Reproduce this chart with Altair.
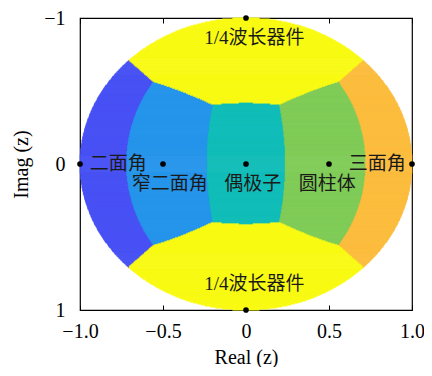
import numpy as np
import pandas as pd
import altair as alt

# reference scatterers (Cameron's classification, z-plane)
ref_class = ["三面角", "二面角", "偶极子", "圆柱体", "窄二面角", "1/4波长器件", "1/4波长器件"]
ref_real = [1.0, -1.0, 0.0, 0.5, -0.5, 0.0, 0.0]
ref_imag = [0.0, 0.0, 0.0, 0.0, 0.0, 1.0, -1.0]

class_names = ["二面角", "窄二面角", "偶极子", "圆柱体", "三面角", "1/4波长器件"]
class_colors = ["#4852F4", "#2796EB", "#12BEB9", "#80CC59", "#FCBD3E", "#F9FB14"]

label_text = ["1/4波长器件", "1/4波长器件", "二面角", "三面角", "窄二面角", "偶极子", "圆柱体"]
label_x = [0.05, 0.05, -0.77, 0.79, -0.46, 0.04, 0.49]
label_y = [-0.86, 0.82, 0.0, 0.0, 0.14, 0.14, 0.14]

x_ticks = [-1.0, -0.5, 0.0, 0.5, 1.0]
y_ticks = [-1, 0, 1]

# ---- classify the unit disk by nearest reference (Cameron distance) ----
NX, NY = 520, 295
xs = np.linspace(-1, 1, NX + 1)
ys = np.linspace(-1, 1, NY + 1)
xc = (xs[:-1] + xs[1:]) / 2
yc = (ys[:-1] + ys[1:]) / 2
zr = np.array(ref_real) + 1j * np.array(ref_imag)

rows = []
dy = ys[1] - ys[0]
for j, y in enumerate(yc):
    z = xc + 1j * y
    inside = np.abs(z) <= 1.0
    cosd = np.abs(1 + z[:, None] * np.conj(zr)[None, :]) / np.sqrt(
        (1 + np.abs(z[:, None]) ** 2) * (1 + np.abs(zr[None, :]) ** 2))
    idx = np.argmax(cosd, axis=1)
    i = 0
    while i < NX:
        if not inside[i]:
            i += 1
            continue
        k = i
        while k + 1 < NX and inside[k + 1] and idx[k + 1] == idx[i]:
            k += 1
        rows.append({"x": xs[i], "x2": xs[k + 1],
                     "y": ys[j] - 0.3 * dy, "y2": ys[j + 1] + 0.3 * dy,
                     "cls": ref_class[idx[i]]})
        i = k + 1
cells = pd.DataFrame(rows)

pts = pd.DataFrame({"re": ref_real, "im": ref_imag})
labels = pd.DataFrame({"t": label_text, "x": label_x, "y": label_y})

xscale = alt.Scale(domain=[-1, 1], nice=False, zero=False)
yscale = alt.Scale(domain=[-1, 1], nice=False, zero=False, reverse=True)
cscale = alt.Scale(domain=class_names, range=class_colors)

serif = "Liberation Serif"

x_axis = alt.Axis(values=x_ticks, title="Real (z)", grid=False, domain=False,
                  offset=-5, tickSize=5, tickColor="black", labelPadding=11,
                  labelFlush=False,
                  labelFont=serif, labelFontSize=20, labelColor="black",
                  labelExpr="datum.value == 0 ? '0' : replace(format(datum.value, '.1f'), '-', '−')",
                  titleFont=serif, titleFontSize=20, titleFontWeight="normal",
                  titleColor="black", titlePadding=6)
y_axis = alt.Axis(values=y_ticks, title="Imag (z)", grid=False, domain=False,
                  offset=-5, tickSize=5, tickColor="black", labelPadding=15,
                  labelFlush=False,
                  labelFont=serif, labelFontSize=20, labelColor="black",
                  labelExpr="replace(format(datum.value, 'd'), '-', '−')",
                  titleFont=serif, titleFontSize=20, titleFontWeight="normal",
                  titleColor="black", titlePadding=12)

regions = alt.Chart(cells).mark_rect(strokeWidth=0.4).encode(
    x=alt.X("x:Q", scale=xscale, axis=x_axis),
    x2="x2:Q",
    y=alt.Y("y:Q", scale=yscale, axis=y_axis),
    y2="y2:Q",
    color=alt.Color("cls:N", scale=cscale, legend=None),
    stroke=alt.Stroke("cls:N", scale=cscale, legend=None),
)

top_ticks = alt.Chart(pts).mark_point(opacity=0).encode(
    x=alt.X("re:Q", scale=xscale,
            axis=alt.Axis(orient="top", values=x_ticks, labels=False, title=None, grid=False,
                          domain=False, offset=-5, tickSize=5, tickColor="black")),
    y=alt.Y("im:Q", scale=yscale,
            axis=alt.Axis(orient="right", values=y_ticks, labels=False, title=None, grid=False,
                          domain=False, offset=-5, tickSize=5, tickColor="black")),
)

dots = alt.Chart(pts).mark_circle(size=32, color="black", opacity=1).encode(
    x=alt.X("re:Q", scale=xscale, axis=None),
    y=alt.Y("im:Q", scale=yscale, axis=None),
)

texts = alt.Chart(labels).mark_text(
    font="Liberation Serif, Noto Sans CJK SC", fontSize=19, color="#1a1a1a",
    align="center", baseline="middle",
).encode(
    x=alt.X("x:Q", scale=xscale, axis=None),
    y=alt.Y("y:Q", scale=yscale, axis=None),
    text="t:N",
)

chart = alt.layer(regions, top_ticks, dots, texts).resolve_axis(
    x="independent", y="independent"
).properties(
    width=332, height=292,
    autosize=alt.AutoSizeParams(type="none"),
    padding={"left": 72, "top": 10, "right": 12, "bottom": 57},
).configure_view(stroke="black", strokeWidth=1.2)

chart.save("out.html", embed_options={"renderer": "svg", "actions": False})
